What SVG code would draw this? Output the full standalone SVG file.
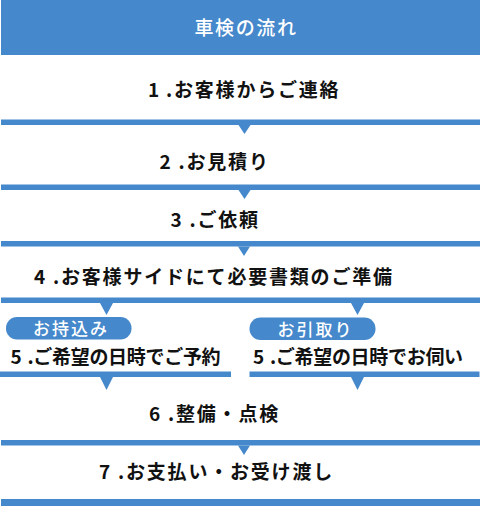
<svg xmlns="http://www.w3.org/2000/svg" width="481" height="506" viewBox="0 0 481 506">
<style>
.bar{fill:#4588cb}
.step{font-family:"Noto Sans CJK JP","Noto Sans",sans-serif;font-size:19px;font-weight:700;fill:#111111;letter-spacing:1.8px}
.tight{letter-spacing:-0.3px}
.title{font-family:"Noto Sans CJK JP","Noto Sans",sans-serif;font-size:19px;font-weight:500;fill:#ffffff;letter-spacing:1.6px}
.pill{font-family:"Noto Sans CJK JP","Noto Sans",sans-serif;font-size:17px;font-weight:500;fill:#ffffff;letter-spacing:2px}
</style>
<rect width="481" height="506" fill="#ffffff"/>
<g id="header">
<rect class="bar" x="1" y="0" width="479" height="55"/>
<text class="title" x="246" y="34.5" text-anchor="middle">車検の流れ</text>
</g>
<g id="step1"><text class="step" x="148" y="97">1<tspan dx="5">.</tspan>お客様からご連絡</text></g>
<g id="step2"><text class="step" x="159.5" y="168.5">2<tspan dx="6">.</tspan>お見積り</text></g>
<g id="step3"><text class="step" x="170.5" y="226.5">3<tspan dx="6">.</tspan>ご依頼</text></g>
<g id="step4"><text class="step" x="34" y="283.5">4<tspan dx="6">.</tspan>お客様サイドにて必要書類のご準備</text></g>
<g id="pill-left">
<rect class="bar" x="6" y="317" width="125.5" height="22.5" rx="11"/>
<text class="pill" x="71" y="335" text-anchor="middle">お持込み</text>
</g>
<g id="pill-right">
<rect class="bar" x="249.5" y="317.5" width="126" height="22.5" rx="11"/>
<text class="pill" x="315.5" y="335.5" text-anchor="middle">お引取り</text>
</g>
<g id="step5-left"><text class="step tight" x="10.5" y="363.5">5<tspan dx="6">.</tspan>ご希望の日時でご予約</text></g>
<g id="step5-right"><text class="step tight" x="253" y="363.5">5<tspan dx="6">.</tspan>ご希望の日時でお伺い</text></g>
<g id="step6"><text class="step" x="149" y="421">6<tspan dx="6">.</tspan>整備・点検</text></g>
<g id="step7"><text class="step" x="99" y="479">7<tspan dx="6">.</tspan>お支払い・お受け渡し</text></g>
<g id="connectors">
<rect class="bar" x="1" y="119.5" width="479" height="5.5"/>
<polygon class="bar" points="238.5,125 250.5,125 244.5,134"/>
<rect class="bar" x="1" y="184.5" width="479" height="5.5"/>
<polygon class="bar" points="238.5,190 250.5,190 244.5,199"/>
<rect class="bar" x="1" y="241" width="479" height="5.5"/>
<polygon class="bar" points="238,246.5 250,246.5 244,256"/>
<rect class="bar" x="1" y="297.5" width="479" height="5.5"/>
<polygon class="bar" points="100,303 113,303 106.5,315"/>
<polygon class="bar" points="351,303 364,303 357.5,315"/>
<rect class="bar" x="0" y="371.5" width="231" height="5.5"/>
<rect class="bar" x="249.5" y="371.5" width="230" height="5.5"/>
<polygon class="bar" points="100,377 113,377 106.5,390"/>
<polygon class="bar" points="351,377 364,377 357.5,390"/>
<rect class="bar" x="1" y="440" width="479" height="5.5"/>
<polygon class="bar" points="238,445.5 250,445.5 244,455"/>
<rect class="bar" x="1" y="499" width="479" height="7"/>
</g>
</svg>
